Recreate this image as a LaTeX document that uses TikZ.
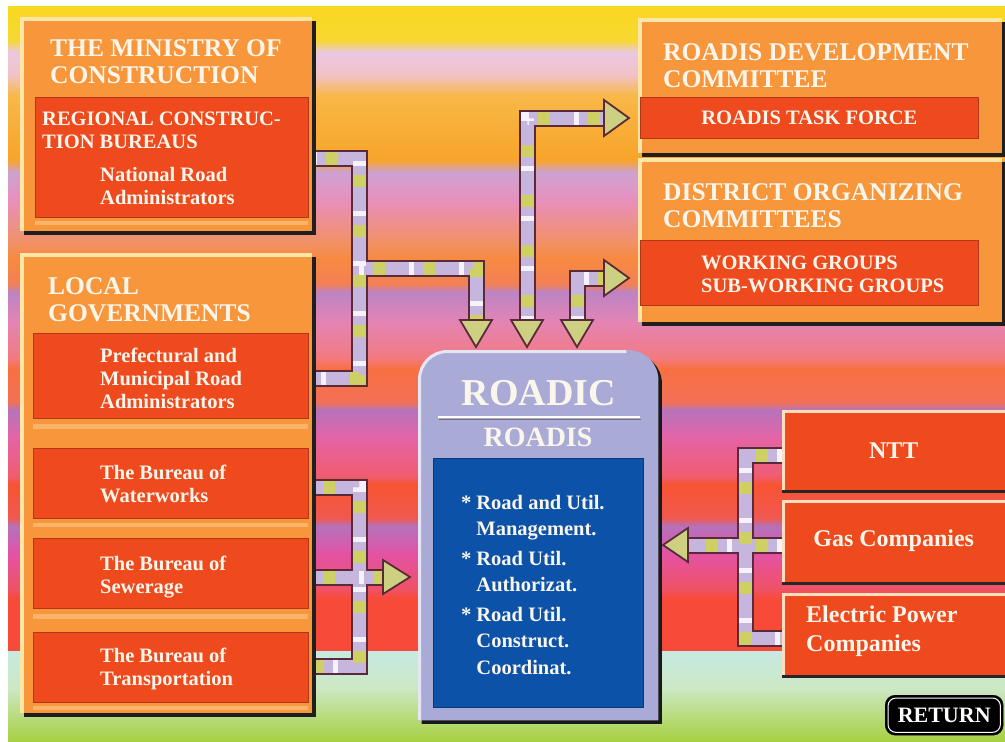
\documentclass[tikz,border=0pt]{standalone}
\usepackage{fontspec}
\setmainfont{Liberation Serif}
\usetikzlibrary{shadows}
\pgfdeclarelayer{bg}
\pgfdeclarelayer{arr}
\pgfsetlayers{bg,arr,main}

\definecolor{orangeP}{HTML}{F8963C}
\definecolor{redP}{HTML}{EE4A1E}
\definecolor{hiP}{HTML}{FDE6A6}
\definecolor{lavB}{HTML}{AAAAD6}
\definecolor{blueB}{HTML}{0C52A8}
\definecolor{arrdark}{HTML}{5A2A3A}
\definecolor{lav}{HTML}{C6B6DE}
\definecolor{ygreen}{HTML}{CFD064}
\definecolor{shaftwhite}{HTML}{F4F2FA}
\definecolor{headfill}{HTML}{CDD080}
\definecolor{txt}{HTML}{FBF6EC}
\definecolor{gapstripe}{HTML}{FAB46A}

\definecolor{b0}{HTML}{F8D820}
\definecolor{b1}{HTML}{F8D830}
\definecolor{b2}{HTML}{EAC8E2}
\definecolor{b3}{HTML}{F2C2C6}
\definecolor{b4}{HTML}{F8B848}
\definecolor{b5}{HTML}{F8A42A}
\definecolor{b6}{HTML}{CCA2D2}
\definecolor{b7}{HTML}{E890BC}
\definecolor{b8}{HTML}{F29060}
\definecolor{b9}{HTML}{F88A40}
\definecolor{b10}{HTML}{F28056}
\definecolor{b11}{HTML}{BC84C4}
\definecolor{b12}{HTML}{E484B4}
\definecolor{b13}{HTML}{F27A80}
\definecolor{b14}{HTML}{F87042}
\definecolor{b15}{HTML}{F27056}
\definecolor{b16}{HTML}{B474BC}
\definecolor{b17}{HTML}{E464A8}
\definecolor{b18}{HTML}{F05C70}
\definecolor{b19}{HTML}{F85432}
\definecolor{b20}{HTML}{F05850}
\definecolor{b21}{HTML}{B472BC}
\definecolor{b22}{HTML}{E452A4}
\definecolor{b23}{HTML}{F05262}
\definecolor{b24}{HTML}{F84A38}
\definecolor{b25}{HTML}{F84A38}
\definecolor{b26}{HTML}{C6EAE2}
\definecolor{b27}{HTML}{CCE8C4}
\definecolor{b28}{HTML}{A6D03E}

\newcommand\bgband[4]{\fill[top color=#3, bottom color=#4] (8,#1) rectangle (1005,#2+0.6);}

\tikzset{
  panel/.style={rectangle, fill=orangeP, inner sep=0pt, anchor=north west,
    drop shadow={shadow xshift=3.5pt, shadow yshift=-3.5pt, fill=black!88, opacity=1},
    path picture={\draw[hiP, line width=8pt] (path picture bounding box.south west) -- (path picture bounding box.north west) -- (path picture bounding box.north east);}},
  redbox/.style={rectangle, fill=redP, draw=redP!75!black, line width=0.6pt, inner sep=0pt, anchor=north west},
  redtxt/.style={font=\fontsize{20.5}{23}\selectfont\bfseries, text=txt, align=left},
  utility/.style={rectangle, fill=redP, inner sep=0pt, anchor=north west,
    drop shadow={shadow xshift=0pt, shadow yshift=-3pt, fill=black!85, opacity=1},
    path picture={\draw[white!75!orange, line width=5pt] (path picture bounding box.south west) -- (path picture bounding box.north west) -- (path picture bounding box.north east);},
    font=\fontsize{24}{29}\selectfont\bfseries, text=txt, align=left},
  ttl/.style={font=\fontsize{25.5}{27}\selectfont\bfseries, text=txt, align=left, inner sep=0pt, anchor=north west},
  subt/.style={font=\fontsize{20.5}{23}\selectfont\bfseries, text=txt, align=left, inner sep=0pt, anchor=north west},
  shaft/.style={draw=lav, line width=13pt, line join=miter, line cap=butt,
    preaction={draw=arrdark, line width=17pt, line join=miter},
    postaction={draw=ygreen, line width=13pt, line join=miter, dash pattern=on 12pt off 38pt, dash phase=-14pt},
    postaction={draw=shaftwhite, line width=13pt, line join=miter, dash pattern=on 5pt off 45pt}},
  head/.style={fill=headfill, draw=arrdark, line width=1.8pt, line join=miter},
}

\begin{document}
\begin{tikzpicture}[x=1pt,y=-1pt]
\useasboundingbox (0,0) rectangle (1005,742);

\begin{pgfonlayer}{bg}
\fill[white] (0,0) rectangle (1005,742);
\bgband{6}{40}{b0}{b1}
\bgband{40}{52}{b1}{b2}
\bgband{52}{75}{b2}{b3}
\bgband{75}{95}{b3}{b4}
\bgband{95}{160}{b4}{b5}
\bgband{160}{172}{b5}{b6}
\bgband{172}{200}{b6}{b7}
\bgband{200}{245}{b7}{b8}
\bgband{245}{258}{b8}{b9}
\bgband{258}{284}{b9}{b10}
\bgband{284}{292}{b10}{b11}
\bgband{292}{322}{b11}{b12}
\bgband{322}{358}{b12}{b13}
\bgband{358}{368}{b13}{b14}
\bgband{368}{402}{b14}{b15}
\bgband{402}{410}{b15}{b16}
\bgband{410}{436}{b16}{b17}
\bgband{436}{476}{b17}{b18}
\bgband{476}{484}{b18}{b19}
\bgband{484}{518}{b19}{b20}
\bgband{518}{526}{b20}{b21}
\bgband{526}{554}{b21}{b22}
\bgband{554}{590}{b22}{b23}
\bgband{590}{598}{b23}{b24}
\bgband{598}{651}{b24}{b25}
\bgband{651}{688}{b26}{b27}
\fill[top color=b27, bottom color=b28] (8,688) rectangle (1005,742);
\end{pgfonlayer}

% ---------- left panels ----------
\node[panel, minimum width=292pt, minimum height=214pt] (min) at (20,17) {};
\fill[gapstripe] (35,221) rectangle (308,225);
\node[redbox, minimum width=273pt, minimum height=120pt] (rcb) at (35,97) {};
\node[ttl] (minT) at (50,39) {THE MINISTRY OF\\CONSTRUCTION};
\node[subt] (rcbT) at (42,112) {REGIONAL CONSTRUC-\\TION BUREAUS};
\node[subt] (nra) at (100,167) {National Road\\Administrators};

\node[panel, minimum width=292pt, minimum height=460pt] (loc) at (20,253) {};
\fill[gapstripe] (33,424) rectangle (308,429);
\fill[gapstripe] (33,523) rectangle (308,527);
\fill[gapstripe] (33,614) rectangle (308,619);
\fill[gapstripe] (33,706) rectangle (308,710);
\node[ttl] (locT) at (48,277) {LOCAL\\GOVERNMENTS};
\node[redbox, minimum width=275pt, minimum height=85pt] (pref) at (33,333) {};
\node[redbox, minimum width=275pt, minimum height=70pt] (ww) at (33,448) {};
\node[redbox, minimum width=275pt, minimum height=70pt] (sew) at (33,538) {};
\node[redbox, minimum width=275pt, minimum height=70pt] (trn) at (33,632) {};
\node[subt] (prefT) at (100,348) {Prefectural and\\Municipal Road\\Administrators};
\node[subt] (wwT) at (100,465) {The Bureau of\\Waterworks};
\node[subt] (sewT) at (100,556) {The Bureau of\\Sewerage};
\node[subt] (trnT) at (100,648) {The Bureau of\\Transportation};

% ---------- right panels ----------
\node[panel, minimum width=364pt, minimum height=135pt] (rdc) at (638,18) {};
\node[ttl] (rdcT) at (663,43) {ROADIS DEVELOPMENT\\COMMITTEE};
\node[redbox, redtxt, minimum width=338pt, minimum height=41pt] (rtf) at (640,97) {ROADIS TASK FORCE};

\node[panel, minimum width=364pt, minimum height=164pt] (doc) at (638,158) {};
\node[ttl] (docT) at (663,183) {DISTRICT ORGANIZING\\COMMITTEES};
\node[redbox, minimum width=338pt, minimum height=65pt] (wg) at (640,240) {};
\node[subt] (wgT) at (701,256) {WORKING GROUPS\\SUB-WORKING GROUPS};

\node[utility, minimum width=223pt, minimum height=80pt] (ntt) at (782,410) {NTT};
\node[utility, minimum width=223pt, minimum height=82pt] (gas) at (782,500) {Gas Companies};
\node[utility, minimum width=223pt, minimum height=82pt] (epc) at (782,593) {};
\node[font=\fontsize{24}{29}\selectfont\bfseries, text=txt, align=left, inner sep=0pt, anchor=north west] (epcT) at (806,606) {Electric Power\\Companies};

% ---------- ROADIC ----------
\node[inner sep=0pt, minimum width=240pt, minimum height=370pt, anchor=north west] (roadic) at (418,350) {};
\fill[black!90] ([xshift=3.5pt,yshift=-3.5pt]roadic.south west) [rounded corners=30pt] -- ([xshift=3.5pt,yshift=-3.5pt]roadic.north west) -- ([xshift=3.5pt,yshift=-3.5pt]roadic.north east) [sharp corners] -- ([xshift=3.5pt,yshift=-3.5pt]roadic.south east) -- cycle;
\fill[lavB] (roadic.south west) [rounded corners=30pt] -- (roadic.north west) -- (roadic.north east) [sharp corners] -- (roadic.south east) -- cycle;
\draw[white!70!lavB, line width=3pt] ([xshift=1.5pt]roadic.south west) [rounded corners=28pt] -- ([xshift=1.5pt,yshift=-1.5pt]roadic.north west) -- ([xshift=-32pt,yshift=-1.5pt]roadic.north east);
\node[fill=blueB, draw=blueB!70!black, line width=0.6pt, inner sep=0pt, minimum width=210pt, minimum height=249pt, anchor=north west] (blue) at (433,458) {};
\node[font=\fontsize{38}{38}\selectfont\bfseries, text=txt, inner sep=0pt] (roadicT) at (539,393) {ROADIC};
\draw[black!55, line width=1.5pt] (439,419.5) -- (641,419.5);
\draw[white, line width=2.5pt] (438,417) -- (640,417);
\node[font=\fontsize{28}{28}\selectfont\bfseries, text=txt, inner sep=0pt] (roadisT) at (538,437) {ROADIS};
\node[anchor=north west, align=left, font=\fontsize{20.5}{26.5}\selectfont\bfseries, text=txt, inner sep=0pt] (items) at (461,495)
 {*\hspace{5pt}Road and Util.\\
  \phantom{*}\hspace{5pt}Management.\\[3pt]
  *\hspace{5pt}Road Util.\\
  \phantom{*}\hspace{5pt}Authorizat.\\[3pt]
  *\hspace{5pt}Road Util.\\
  \phantom{*}\hspace{5pt}Construct.\\
  \phantom{*}\hspace{5pt}Coordinat.};

% ---------- RETURN ----------
\node[fill=black, draw=black, rounded corners=10pt, minimum width=118pt, minimum height=40pt, anchor=north west, inner sep=0pt, font=\fontsize{22}{22}\selectfont\bfseries, text=white] (ret) at (885,695) {RETURN};
\draw[white, line width=1pt, rounded corners=8pt] ([shift={(3pt,-3pt)}]ret.north west) rectangle ([shift={(-3pt,3pt)}]ret.south east);

% ---------- arrows ----------
\coordinate (tipA) at (476,347);
\coordinate (tipB1) at (527,347);
\coordinate (tipB2) at (629,118);
\coordinate (tipC1) at (577,347);
\coordinate (tipC2) at (629,278);
\coordinate (tipD) at (410,577);
\coordinate (tipE) at (663,545);
\begin{pgfonlayer}{arr}
\draw[shaft] (min.east |- 0,158) -- (359,158) -- (359,378) -- (loc.east |- 0,378)
             (359,268) -- (476,268) -- (476,321);
\draw[shaft] (527,321) -- (527,118) -- (605,118);
\draw[shaft] (577,321) -- (577,278) -- (605,278);
\draw[shaft] (ww.east |- 0,487) -- (359,487) -- (359,666) -- (trn.east |- 0,666)
             (sew.east |- 0,577) -- (384,577);
\draw[shaft] (ntt.west |- 0,455) -- (745,455) -- (745,638) -- (epc.west |- 0,638)
             (gas.west |- 0,545) -- (687,545);
\draw[head] (tipA) -- ++(-16,-27) -- ++(32,0) -- cycle;
\draw[head] (tipB1) -- ++(-16,-27) -- ++(32,0) -- cycle;
\draw[head] (tipC1) -- ++(-16,-27) -- ++(32,0) -- cycle;
\draw[head] (tipB2) -- ++(-25,-18) -- ++(0,36) -- cycle;
\draw[head] (tipC2) -- ++(-25,-18) -- ++(0,36) -- cycle;
\draw[head] (tipD) -- ++(-27,-17) -- ++(0,34) -- cycle;
\draw[head] (tipE) -- ++(25,-17) -- ++(0,34) -- cycle;
\end{pgfonlayer}
\end{tikzpicture}
\end{document}
